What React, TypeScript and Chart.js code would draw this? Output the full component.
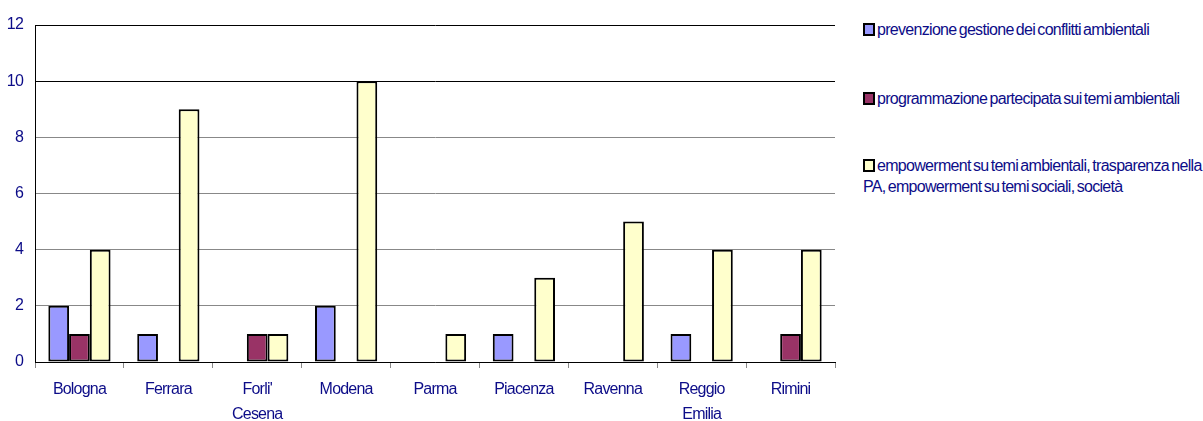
import React, { useEffect, useRef } from "react";
import { Chart, registerables } from "chart.js";

Chart.register(...registerables);

const categories: (string | string[])[] = [
  "Bologna",
  "Ferrara",
  ["Forli'", "Cesena"],
  "Modena",
  "Parma",
  "Piacenza",
  "Ravenna",
  ["Reggio", "Emilia"],
  "Rimini",
];

const seriesNames = [
  "prevenzione gestione dei conflitti ambientali",
  "programmazione partecipata sui temi ambientali",
  "empowerment su temi ambientali, trasparenza nella PA, empowerment su temi sociali, società",
];

const prevenzione: (number | null)[] = [2, 1, null, 2, null, 1, null, 1, null];
const programmazione: (number | null)[] = [1, null, 1, null, null, null, null, null, 1];
const empowerment: (number | null)[] = [4, 9, 1, 10, 1, 3, 5, 4, 4];

const yTicks = [0, 2, 4, 6, 8, 10, 12];

const colors = ["#9999FF", "#993366", "#FFFFCC"];
const TEXT = "#0c0c88";
const FONT = "'Liberation Sans', Arial, sans-serif";

export default function App() {
  const ref = useRef<HTMLCanvasElement>(null);

  useEffect(() => {
    if (!ref.current) return;
    const spacing = {
      id: "spacing",
      beforeDraw(chart: any) {
        chart.ctx.letterSpacing = "-0.8px";
      },
    };
    const chart = new Chart(ref.current, {
      type: "bar",
      data: {
        labels: categories as any,
        datasets: [prevenzione, programmazione, empowerment].map((d, i) => ({
          label: seriesNames[i],
          data: d,
          backgroundColor: colors[i],
          borderColor: "#000000",
          borderWidth: 2,
          borderSkipped: false,
          categoryPercentage: 0.7,
          barPercentage: 1,
        })),
      },
      options: {
        responsive: false,
        animation: false,
        layout: { padding: { top: 25, right: 10, left: 0, bottom: 0 } },
        plugins: { legend: { display: false }, tooltip: { enabled: false } },
        scales: {
          x: {
            grid: {
              display: true,
              drawOnChartArea: false,
              drawTicks: true,
              tickLength: 6,
              color: "#888888",
              offset: true,
            },
            border: { display: true, color: "#000000", width: 1 },
            ticks: {
              color: TEXT,
              font: { family: FONT, size: 16, lineHeight: 1.55 },
              padding: 9,
              maxRotation: 0,
              autoSkip: false,
            },
            afterFit(scale: any) {
              scale.height = 59;
            },
          },
          y: {
            min: 0,
            max: 12,
            afterBuildTicks(scale: any) {
              scale.ticks = yTicks.map((v) => ({ value: v }));
            },
            grid: {
              drawTicks: false,
              color: (ctx: any) => (ctx.tick && ctx.tick.value >= 10 ? "#000000" : "#888888"),
              lineWidth: 1,
            },
            border: { display: true, color: "#000000", width: 1 },
            ticks: {
              color: TEXT,
              font: { family: FONT, size: 16 },
              padding: 12,
            },
            afterFit(scale: any) {
              scale.width = 35;
            },
          },
        },
      },
      plugins: [spacing],
    });
    return () => chart.destroy();
  }, []);

  const legendTops = [19, 88, 155];
  return (
    <div
      style={{
        position: "absolute",
        left: 0,
        top: 0,
        width: 1203,
        height: 421,
        background: "#ffffff",
        overflow: "hidden",
      }}
    >
      <canvas
        ref={ref}
        width={845}
        height={421}
        style={{ position: "absolute", left: 0, top: 0, width: 845, height: 421 }}
      />
      {seriesNames.map((name, i) => {
        const parts = i === 2
          ? ["empowerment su temi ambientali, trasparenza nella", "PA, empowerment su temi sociali, società"]
          : [name];
        return (
          <div
            key={i}
            style={{
              position: "absolute",
              left: 863,
              top: legendTops[i],
              width: 340,
              fontFamily: FONT,
              fontSize: 16,
              lineHeight: "21px",
              letterSpacing: "-0.7px",
              wordSpacing: "-1.5px",
              color: TEXT,
              whiteSpace: "nowrap",
            }}
          >
            <span
              style={{
                display: "inline-block",
                width: 8,
                height: 9,
                border: "2px solid #000",
                background: colors[i],
                marginRight: 2,
                verticalAlign: "-1px",
              }}
            />
            {parts[0]}
            {parts.length > 1 && (
              <>
                <br />
                {parts[1]}
              </>
            )}
          </div>
        );
      })}
    </div>
  );
}
